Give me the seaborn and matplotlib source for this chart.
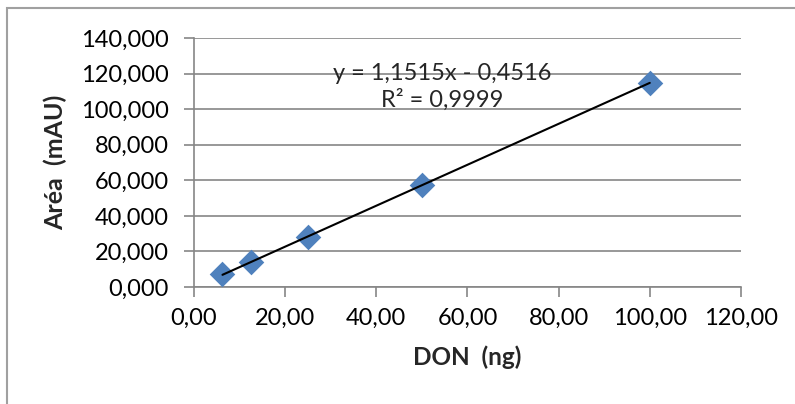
import seaborn as sns
import pandas as pd
import matplotlib.pyplot as plt
from matplotlib.ticker import FuncFormatter
from matplotlib.patches import Rectangle

don_ng = [6.25, 12.5, 25.0, 50.0, 100.0]
area_mau = [7.1, 13.9, 28.3, 57.2, 114.8]
eq_text = 'y = 1,1515x - 0,4516\nR² = 0,9999'

df = pd.DataFrame({'don': don_ng, 'area': area_mau})

sns.set_style('white')
plt.rcParams['font.family'] = ['Lato', 'DejaVu Sans']

fig = plt.figure(figsize=(7.95, 4.04), dpi=100)
ax = fig.add_axes([0.244, 0.2896, 0.688, 0.6164])

grid_col = '#868686'
sns.regplot(x='don', y='area', data=df, ax=ax, ci=None,
            marker='D',
            scatter_kws={'s': 170, 'color': '#4F81BD', 'alpha': 1, 'zorder': 3, 'linewidths': 0},
            line_kws={'color': 'black', 'lw': 1.5, 'zorder': 4})

ax.set_xlim(0, 120)
ax.set_ylim(0, 140)
ax.set_xticks(range(0, 121, 20))
ax.set_yticks(range(0, 141, 20))
ax.xaxis.set_major_formatter(FuncFormatter(lambda v, p: f'{v:.2f}'.replace('.', ',')))
ax.yaxis.set_major_formatter(FuncFormatter(lambda v, p: f'{v:.3f}'.replace('.', ',')))
ax.yaxis.grid(True, color=grid_col, lw=1.2)
ax.set_axisbelow(True)
for s in ['top', 'right']:
    ax.spines[s].set_visible(False)
for s in ['left', 'bottom']:
    ax.spines[s].set_color(grid_col)
    ax.spines[s].set_linewidth(1.2)
ax.tick_params(axis='both', direction='out', length=7, width=1.2, color=grid_col,
               labelsize=17, labelcolor='black', left=True, bottom=True)
ax.tick_params(axis='y', pad=11)
ax.tick_params(axis='x', pad=8)

ax.set_xlabel('DON  (ng)', fontsize=17.5, fontweight='bold', labelpad=12)
ax.set_ylabel('Aréa  (mAU)', fontsize=18, fontweight='bold', labelpad=10)

ax.text(54.4, 112.5, eq_text, ha='center', va='center', fontsize=17,
        linespacing=1.25)

fig.patches.append(Rectangle((7 / 795, -0.2), 1.2, 1.2 - 8 / 404,
                             transform=fig.transFigure, fill=False,
                             edgecolor='#a0a0a0', lw=1.5))

fig.savefig('out.png', dpi=100)
